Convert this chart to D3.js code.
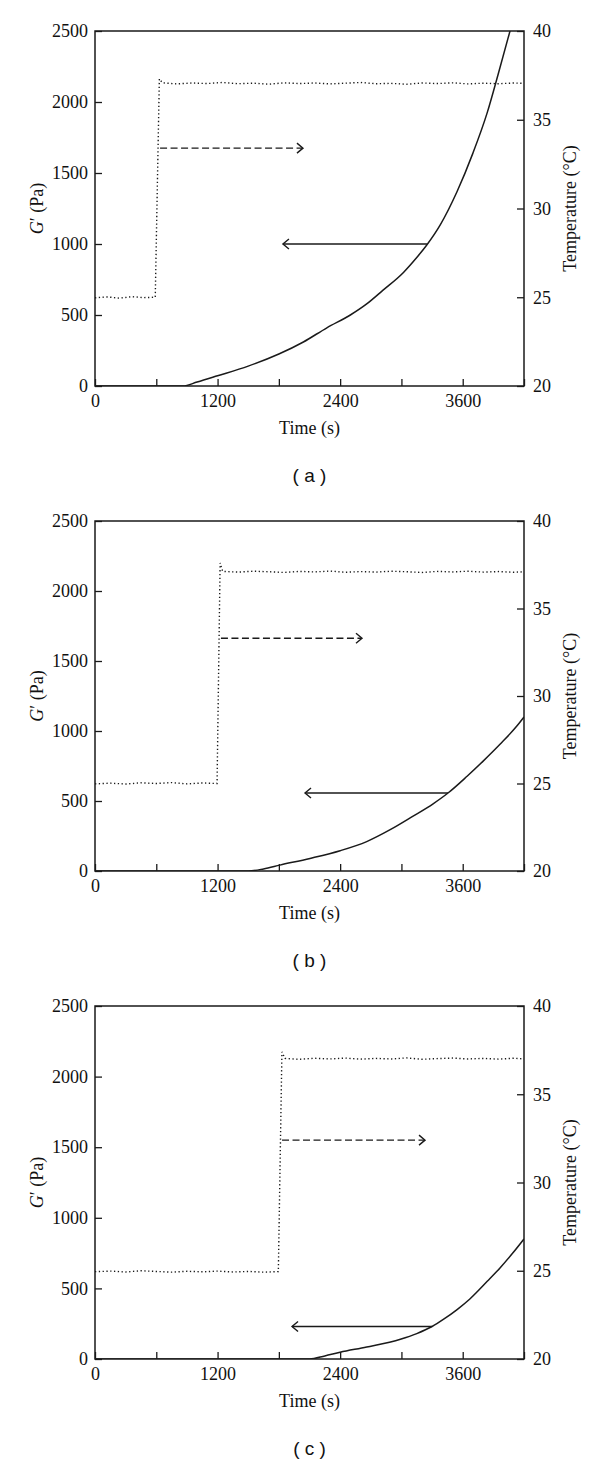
<!DOCTYPE html>
<html>
<head>
<meta charset="utf-8">
<script src="https://cdn.jsdelivr.net/npm/d3@7"></script>
<style>
  body { margin: 0; background: #fff; }
  text { font-family: "Liberation Serif", "Times New Roman", serif; fill: #111; }
  .panel-name { font-family: "Liberation Sans", Arial, sans-serif; }
</style>
</head>
<body>
<svg id="chart" width="600" height="1466"></svg>
<script>
// Axis ticks
const timeTicks = [0, 600, 1200, 1800, 2400, 3000, 3600, 4200];
const timeLabels = [0, 1200, 2400, 3600];
const gTicks = [0, 500, 1000, 1500, 2000, 2500];
const tempTicks = [20, 25, 30, 35, 40];
const panelNames = ["( a )", "( b )", "( c )"];

// Temperature (dotted), [time s, °C]
const tempA = [[0, 24.97], [120, 25.02], [240, 24.95], [360, 25.03], [480, 24.98], [590, 25.0],
  [630, 37.3], [660, 37.08], [800, 37.02], [950, 37.07], [1100, 37.04], [1250, 37.1], [1400, 37.03],
  [1550, 37.06], [1700, 37.0], [1850, 37.08], [2000, 37.04], [2150, 37.07], [2300, 37.02], [2450, 37.06],
  [2600, 37.1], [2750, 37.03], [2900, 37.05], [3050, 37.0], [3200, 37.07], [3350, 37.04], [3500, 37.08],
  [3650, 37.02], [3800, 37.06], [3950, 37.03], [4100, 37.07], [4200, 37.05]];
const tempB = [[0, 24.98], [150, 25.02], [300, 24.97], [450, 25.04], [600, 25.0], [750, 25.05], [900, 24.98],
  [1050, 25.03], [1195, 25.0], [1225, 37.6], [1250, 37.12], [1400, 37.08], [1550, 37.13], [1700, 37.1],
  [1850, 37.06], [2000, 37.12], [2150, 37.09], [2300, 37.14], [2450, 37.07], [2600, 37.11], [2750, 37.08],
  [2900, 37.13], [3050, 37.1], [3200, 37.06], [3350, 37.12], [3500, 37.09], [3650, 37.13], [3800, 37.08],
  [3950, 37.11], [4100, 37.07], [4200, 37.1]];
const tempC = [[0, 24.95], [150, 24.98], [300, 24.93], [450, 25.0], [600, 24.96], [750, 24.92], [900, 24.97],
  [1050, 24.94], [1200, 24.98], [1350, 24.93], [1500, 24.96], [1650, 24.92], [1795, 24.95], [1830, 37.4],
  [1860, 37.03], [2000, 36.98], [2150, 37.04], [2300, 37.0], [2450, 37.05], [2600, 36.99], [2750, 37.03],
  [2900, 37.0], [3050, 37.06], [3200, 36.98], [3350, 37.02], [3500, 37.05], [3650, 37.0], [3800, 37.03],
  [3950, 36.99], [4100, 37.04], [4200, 37.0]];

// G' (solid), [time s, Pa]
const gA = [[0, 0], [860, 0], [1000, 28], [1200, 72], [1500, 140], [1800, 225], [2040, 310], [2270, 410],
  [2500, 500], [2660, 578], [2820, 675], [3020, 800], [3150, 905], [3250, 995], [3380, 1135], [3545, 1370],
  [3700, 1640], [3840, 1925], [3945, 2190], [4063, 2500], [4100, 2600]];
const gB = [[0, 0], [1500, 0], [1650, 15], [1810, 42], [2105, 90], [2400, 145], [2660, 210], [2890, 295],
  [3110, 390], [3310, 480], [3456, 557], [3640, 675], [3800, 785], [3965, 905], [4130, 1035], [4200, 1100]];
const gC = [[0, 0], [2100, 0], [2250, 22], [2400, 48], [2660, 85], [2990, 140], [3150, 180], [3300, 230],
  [3410, 280], [3545, 350], [3670, 425], [3840, 550], [3965, 645], [4090, 750], [4200, 850]];

// Arrows: temperature arrow [from s, to s, °C], G' arrow [from s, to s, Pa]
const tempArrows = [[637, 2036, 33.4], [1233, 2614, 33.3], [1831, 3231, 32.4]];
const gArrows = [[3250, 1840, 1000], [3456, 2056, 557], [3300, 1929, 230]];

const temps = [tempA, tempB, tempC];
const gs = [gA, gB, gC];

const svg = d3.select("#chart");
const boxes = [{ top: 31, bottom: 386 }, { top: 521, bottom: 871 }, { top: 1006, bottom: 1359 }];
const left = 95, right = 524;
const ink = "#1a1a1a";

boxes.forEach((box, i) => {
  const g = svg.append("g");

  const x = d3.scaleLinear().domain([0, 4200]).range([left, right]);
  const yG = d3.scaleLinear().domain([0, 2500]).range([box.bottom, box.top]);
  const yT = d3.scaleLinear().domain([20, 40]).range([box.bottom, box.top]);

  // clip to plot box
  g.append("clipPath").attr("id", "clip" + i)
    .append("rect")
    .attr("x", left).attr("y", box.top)
    .attr("width", right - left).attr("height", box.bottom - box.top);

  const plot = g.append("g").attr("clip-path", `url(#clip${i})`);

  // temperature, dotted
  plot.append("path")
    .datum(temps[i])
    .attr("d", d3.line().x(d => x(d[0])).y(d => yT(d[1])))
    .attr("fill", "none")
    .attr("stroke", ink)
    .attr("stroke-width", 1.4)
    .attr("stroke-dasharray", "1.3,2.5");

  // G', solid
  plot.append("path")
    .datum(gs[i])
    .attr("d", d3.line().curve(d3.curveMonotoneX).x(d => x(d[0])).y(d => yG(d[1])))
    .attr("fill", "none")
    .attr("stroke", ink)
    .attr("stroke-width", 1.5);

  // dashed arrow to the right axis
  const ta = tempArrows[i];
  const tx1 = x(ta[1]), ty = yT(ta[2]);
  g.append("line")
    .attr("x1", x(ta[0])).attr("x2", tx1 - 1)
    .attr("y1", ty).attr("y2", ty)
    .attr("stroke", ink).attr("stroke-width", 1.4)
    .attr("stroke-dasharray", "7,3.5");
  g.append("path")
    .attr("d", `M${tx1 - 6},${ty - 5}L${tx1},${ty}L${tx1 - 6},${ty + 5}`)
    .attr("fill", "none").attr("stroke", ink).attr("stroke-width", 1.4);

  // solid arrow to the left axis
  const ga = gArrows[i];
  const gx1 = x(ga[1]), gy = yG(ga[2]);
  g.append("line")
    .attr("x1", x(ga[0])).attr("x2", gx1)
    .attr("y1", gy).attr("y2", gy)
    .attr("stroke", ink).attr("stroke-width", 1.4);
  g.append("path")
    .attr("d", `M${gx1 + 6},${gy - 5}L${gx1},${gy}L${gx1 + 6},${gy + 5}`)
    .attr("fill", "none").attr("stroke", ink).attr("stroke-width", 1.4);

  // axes, ticks pointing inward
  const styleAxis = sel => {
    sel.select(".domain").remove();
    sel.selectAll(".tick line").attr("stroke", ink).attr("stroke-width", 1.3);
    sel.selectAll(".tick text").style("font-size", "18px");
  };

  g.append("g")
    .attr("transform", `translate(${left},0)`)
    .call(d3.axisLeft(yG).tickValues(gTicks).tickSize(-7).tickPadding(7).tickFormat(d3.format("d")))
    .call(styleAxis);

  g.append("g")
    .attr("transform", `translate(${right},0)`)
    .call(d3.axisRight(yT).tickValues(tempTicks).tickSize(-7).tickPadding(9).tickFormat(d3.format("d")))
    .call(styleAxis);

  g.append("g")
    .attr("transform", `translate(0,${box.bottom})`)
    .call(d3.axisBottom(x).tickValues(timeTicks).tickSize(-7).tickPadding(8)
      .tickFormat(d => timeLabels.includes(d) ? d : ""))
    .call(styleAxis);

  // frame
  g.append("rect")
    .attr("x", left).attr("y", box.top)
    .attr("width", right - left).attr("height", box.bottom - box.top)
    .attr("fill", "none").attr("stroke", ink).attr("stroke-width", 1.5);

  const midY = (box.top + box.bottom) / 2;
  const midX = (left + right) / 2;

  // left axis title
  const yl = g.append("text")
    .attr("transform", `translate(43,${midY}) rotate(-90)`)
    .attr("text-anchor", "middle")
    .style("font-size", "18px");
  yl.append("tspan").style("font-style", "italic").text("G");
  yl.append("tspan").text("\u2032 (Pa)");

  // right axis title
  g.append("text")
    .attr("transform", `translate(576,${midY}) rotate(-90)`)
    .attr("text-anchor", "middle")
    .style("font-size", "18px")
    .text("Temperature (\u00B0C)");

  // x axis title
  g.append("text")
    .attr("x", midX).attr("y", box.bottom + 48)
    .attr("text-anchor", "middle")
    .style("font-size", "18px")
    .text("Time (s)");

  // panel label
  g.append("text")
    .attr("class", "panel-name")
    .attr("x", midX).attr("y", box.bottom + 96)
    .attr("text-anchor", "middle")
    .style("font-size", "19px")
    .text(panelNames[i]);
});
</script>
</body>
</html>
